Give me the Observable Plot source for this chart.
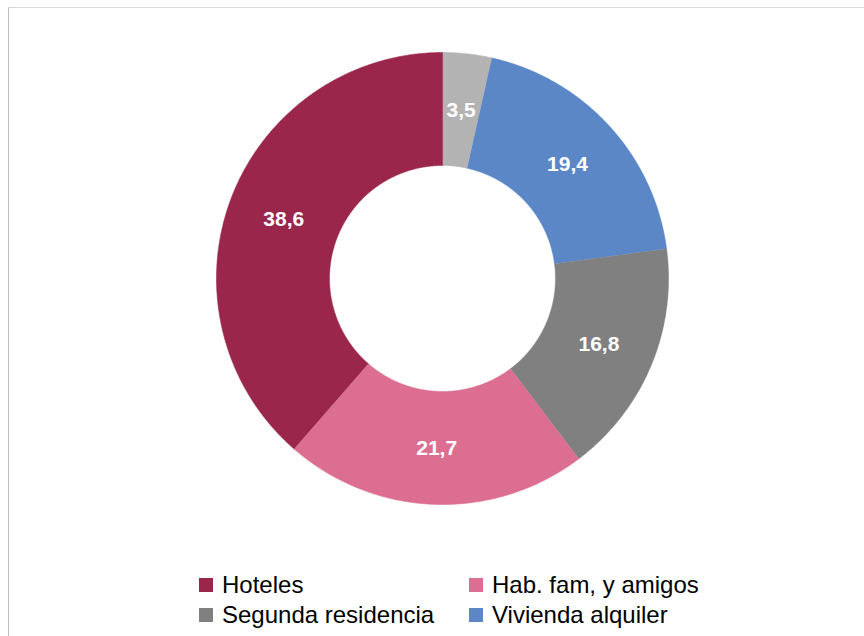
<!DOCTYPE html>
<html>
<head>
<meta charset="utf-8">
<script src="https://cdn.jsdelivr.net/npm/d3@7"></script>
<script src="https://cdn.jsdelivr.net/npm/@observablehq/plot@0.6"></script>
<style>
  html, body { margin: 0; padding: 0; background: #fff; width: 864px; height: 636px; overflow: hidden; }
  body { position: relative; font-family: "Liberation Sans", Arial, sans-serif; }
  #frame { position: absolute; left: 8px; top: 7px; width: 900px; height: 700px;
           border-top: 1px solid #d9d9d9; border-left: 1px solid #bfbfbf; }
  #chart { position: absolute; left: 0; top: 0; }
  .leg { position: absolute; font-size: 24px; color: #000; line-height: 1; white-space: nowrap; }
  .sw { position: absolute; width: 14px; height: 14px; }
</style>
</head>
<body>
<div id="frame"></div>
<div id="chart"></div>
<div id="legend"></div>
<script>
// Data (clockwise from 12 o'clock)
const categories = ["Otros", "Vivienda alquiler", "Segunda residencia", "Hab. fam, y amigos", "Hoteles"];
const values = [3.5, 19.4, 16.8, 21.7, 38.6];
const labels = ["3,5", "19,4", "16,8", "21,7", "38,6"];
const colors = ["#b3b3b3", "#5b87c6", "#808080", "#dc6f91", "#9b264b"];
const legendItems = ["Hoteles", "Hab. fam, y amigos", "Segunda residencia", "Vivienda alquiler"];

const W = 864, H = 560;
const cx = 442, cy = 278;
const rOuter = 226, rInner = 113;

const pie = d3.pie().sort(null).value(d => d.value);
const arcs = pie(categories.map((c, i) => ({cat: c, value: values[i], label: labels[i]})));

const pts = [];
const labs = [];
for (const a of arcs) {
  const n = Math.max(4, Math.ceil((a.endAngle - a.startAngle) / 0.005));
  for (let k = 0; k <= n; k++) {
    const t = a.startAngle + (a.endAngle - a.startAngle) * k / n;
    pts.push({cat: a.data.cat, x: rOuter * Math.sin(t), y: -rOuter * Math.cos(t)});
  }
  for (let k = n; k >= 0; k--) {
    const t = a.startAngle + (a.endAngle - a.startAngle) * k / n;
    pts.push({cat: a.data.cat, x: rInner * Math.sin(t), y: -rInner * Math.cos(t)});
  }
  const m = (a.startAngle + a.endAngle) / 2, rm = (rOuter + rInner) / 2;
  labs.push({label: a.data.label, x: rm * Math.sin(m), y: -rm * Math.cos(m)});
}

const chart = Plot.plot({
  width: W, height: H,
  margin: 0,
  x: {domain: [-cx, W - cx], axis: null},
  y: {domain: [-cy, H - cy], reverse: true, axis: null},
  color: {domain: categories, range: colors},
  style: {background: "transparent", fontFamily: "Liberation Sans, Arial, sans-serif"},
  marks: [
    Plot.line(pts, {x: "x", y: "y", z: "cat", fill: "cat", stroke: "cat", strokeWidth: 0.6, curve: "linear"}),
    Plot.text(labs, {x: "x", y: "y", text: "label", fill: "white", fontSize: 21, fontWeight: "bold"})
  ]
});
document.getElementById("chart").appendChild(chart);

// Legend
const legend = document.getElementById("legend");
const pos = [[199, 585], [469, 585], [199, 615], [469, 615]];
legendItems.forEach((name, i) => {
  const [x, y] = pos[i];
  const col = colors[categories.indexOf(name)];
  const sw = document.createElement("div");
  sw.className = "sw";
  sw.style.left = x + "px";
  sw.style.top = (y - 7) + "px";
  sw.style.background = col;
  legend.appendChild(sw);
  const t = document.createElement("div");
  t.className = "leg";
  t.style.left = (x + 23) + "px";
  t.style.top = (y - 12) + "px";
  t.textContent = name;
  legend.appendChild(t);
});
</script>
</body>
</html>
